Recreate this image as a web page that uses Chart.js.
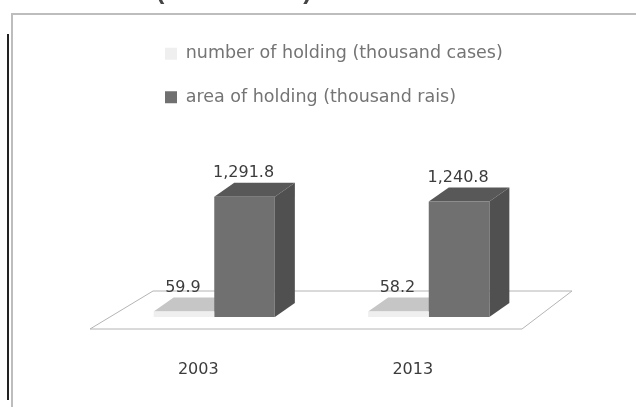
<!DOCTYPE html>
<html><head><meta charset="utf-8">
<style>
html,body{margin:0;padding:0;background:#fff;overflow:hidden}
#wrap{position:relative;width:636px;height:407px;overflow:hidden;background:#fff}
#c{position:absolute;left:0;top:0;filter:blur(0.45px)}
#frameT{position:absolute;left:11px;top:13px;width:625px;height:2px;background:#bdbdbd}
#frameL{position:absolute;left:11px;top:13px;width:2px;height:394px;background:#bdbdbd}
#bar{position:absolute;left:7px;top:34px;width:2px;height:366px;background:#222}
#ttl{position:absolute;left:156px;top:-24px;font:bold 25px "Liberation Sans",sans-serif;color:#444;white-space:nowrap;filter:blur(.5px)}
</style></head>
<body><div id="wrap">
<div id="ttl">(2003 – 2013)</div>
<div id="frameT"></div><div id="frameL"></div><div id="bar"></div>
<canvas id="c" width="636" height="407"></canvas>
</div>
<script src="https://cdn.jsdelivr.net/npm/chart.js@4"></script>
<script>
const categories = ['2003','2013'];
const holdingCount = [59.9,58.2];
const holdingArea = [1291.8,1240.8];
const seriesNames = ['number of holding (thousand cases)','area of holding (thousand rais)'];
const fmt = v => v.toLocaleString('en-US',{minimumFractionDigits:1,maximumFractionDigits:1});
const DX=20, DY=14;
const faces=[{top:'#c6c6c6',side:'#dcdcdc'},{top:'#585858',side:'#505050'}];
const box3d={
  id:'box3d',
  afterLayout(chart){ chart.legend.left += 32; chart.legend.top += 19; },
  beforeDatasetsDraw(chart){
    const {ctx,chartArea:a,scales:{y}}=chart;
    const y0=y.getPixelForValue(0);
    ctx.save();
    ctx.strokeStyle='#b4b4b4';ctx.lineWidth=1;ctx.fillStyle='#fff';
    ctx.beginPath();
    ctx.moveTo(a.left-17,y0+12);ctx.lineTo(a.right-14,y0+12);
    ctx.lineTo(a.right+36,y0-26);ctx.lineTo(a.left+46,y0-26);ctx.closePath();
    ctx.fill();ctx.stroke();
    chart.data.datasets.forEach((ds,i)=>{
      chart.getDatasetMeta(i).data.forEach(b=>{
        const l=b.x-b.width/2,r=b.x+b.width/2,t=b.y,bt=b.base;
        ctx.fillStyle=faces[i].top;
        ctx.beginPath();ctx.moveTo(l,t);ctx.lineTo(l+DX,t-DY);ctx.lineTo(r+DX,t-DY);ctx.lineTo(r,t);ctx.closePath();ctx.fill();
        ctx.fillStyle=faces[i].side;
        ctx.beginPath();ctx.moveTo(r,t);ctx.lineTo(r+DX,t-DY);ctx.lineTo(r+DX,bt-DY);ctx.lineTo(r,bt);ctx.closePath();ctx.fill();
      });
    });
    ctx.restore();
  },
  afterDatasetsDraw(chart){
    const {ctx}=chart;
    ctx.save();
    ctx.font='16px "DejaVu Sans"';ctx.fillStyle='#3c3c3c';ctx.textAlign='center';ctx.textBaseline='middle';
    chart.data.datasets.forEach((ds,i)=>{
      chart.getDatasetMeta(i).data.forEach((b,j)=>{
        ctx.fillText(fmt(ds.data[j]),b.x-1,b.y-24);
      });
    });
    ctx.restore();
  }
};
new Chart(document.getElementById('c'),{
  type:'bar',
  data:{labels:categories,datasets:[
    {label:seriesNames[0],data:holdingCount,backgroundColor:'#efefef'},
    {label:seriesNames[1],data:holdingArea,backgroundColor:'#707070'}
  ]},
  options:{
    responsive:false,animation:false,
    devicePixelRatio:1,
    layout:{padding:{left:107,right:100,top:49,bottom:29}},
    datasets:{bar:{categoryPercentage:0.565,barPercentage:1}},
    scales:{
      x:{grid:{display:false},border:{display:false},
         afterFit(s){s.height=61;},
         ticks:{padding:35,labelOffset:-16,maxRotation:0,color:'#3c3c3c',font:{family:'"DejaVu Sans"',size:16}}},
      y:{display:false,min:0,max:2882}
    },
    plugins:{
      legend:{position:'chartArea',align:'start',
        labels:{boxWidth:12,boxHeight:12,padding:26,color:'#747474',font:{family:'"DejaVu Sans"',size:17.5}}},
      tooltip:{enabled:false}
    }
  },
  plugins:[box3d]
});
</script></body></html>
